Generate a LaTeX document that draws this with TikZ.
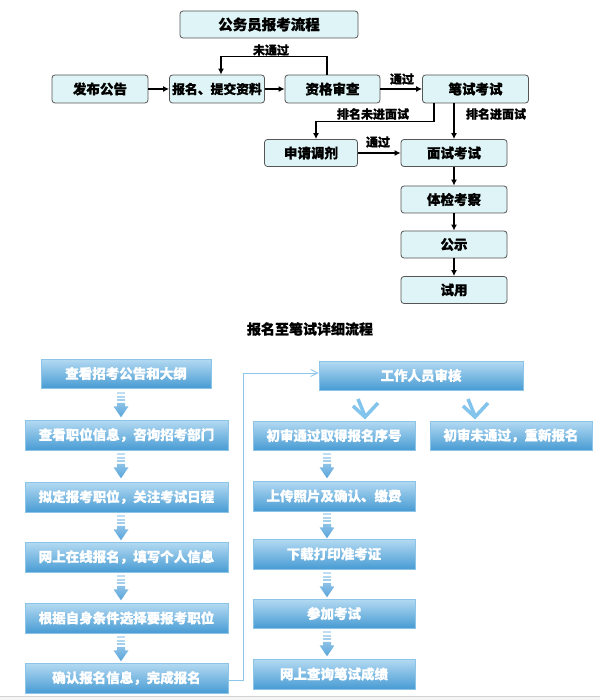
\documentclass[tikz,border=0pt]{standalone}
\usepackage{fontspec}
\setmainfont{Noto Sans CJK SC}[BoldFeatures={FakeBold=0.9}]
\usetikzlibrary{arrows.meta,calc}
\definecolor{topfill}{RGB}{222,244,246}
\definecolor{topdraw}{RGB}{85,85,85}
\definecolor{btop}{RGB}{180,218,242}
\definecolor{bbot}{RGB}{72,156,212}
\definecolor{bdraw}{RGB}{140,196,232}
\definecolor{sbar}{RGB}{176,214,240}
\definecolor{shead}{RGB}{88,164,218}
\definecolor{conn}{RGB}{140,198,234}
\definecolor{chevc}{RGB}{130,196,236}
\tikzset{
  tbox/.style={draw=topdraw, line width=0.8pt, fill=topfill, rounded corners=3pt, inner sep=0pt,
    minimum height=28pt, font=\bfseries\fontsize{13.5}{13.5}\selectfont},
  blk/.style={line width=1.5pt, -{Latex[length=6pt,width=6pt]}},
  lbl/.style={font=\bfseries\fontsize{12}{12}\selectfont, inner sep=0pt},
  bbox/.style={draw=bdraw, line width=0.6pt, top color=btop, bottom color=bbot, text=white,
    inner sep=0pt, minimum height=30pt, font=\bfseries\fontsize{13.5}{14}\selectfont},
  conline/.style={draw=conn, line width=0.9pt},
  stripe/.pic={
    \fill[sbar!80!white] (-4,0) rectangle (4,2);
    \fill[sbar] (-4,3.5) rectangle (4,5.5);
    \fill[sbar!85!shead] (-4,7) rectangle (4,9);
    \shade[top color=sbar!60!shead, bottom color=shead]
      (-4,10.5) -- (4,10.5) -- (4,14) -- (7.5,14) -- (0,25) -- (-7.5,14) -- (-4,14) -- cycle;
  },
  chev/.pic={
    \draw[chevc, line width=3.5pt, line cap=butt] (-7,-17) -- (0,0);
    \draw[chevc, line width=3.5pt, line join=miter] (-12,-10) -- (0,1) -- (13,-13);
  }
}
\begin{document}
\begin{tikzpicture}[x=1pt,y=-1pt]
\useasboundingbox (0,0) rectangle (600,700);
\fill[white] (0,0) rectangle (600,700);
\fill[gray!8] (0,696) rectangle (600,700);
\draw[gray!35, line width=0.8pt] (0,696) -- (600,696);

% ---------- top flow ----------
\node[tbox, minimum width=178pt, minimum height=27pt, font=\bfseries\fontsize{14.5}{14.5}\selectfont] (title) at (269,24.5) {公务员报考流程};
\node[tbox, minimum width=96pt] (fb) at (100,89) {发布公告};
\node[tbox, minimum width=95pt, font=\bfseries\fontsize{12.8}{13}\selectfont] (bm) at (217,89) {报名、提交资料};
\node[tbox, minimum width=95pt] (zg) at (332.5,89) {资格审查};
\node[tbox, minimum width=106pt] (bs) at (475.5,89) {笔试考试};
\node[tbox, minimum width=93pt, minimum height=27pt] (sq) at (311,153) {申请调剂};
\node[tbox, minimum width=106pt, minimum height=27pt] (ms) at (454,153) {面试考试};
\node[tbox, minimum width=106pt, minimum height=27pt] (tj) at (454,199.5) {体检考察};
\node[tbox, minimum width=106pt, minimum height=27pt] (gs) at (454,244.5) {公示};
\node[tbox, minimum width=106pt, minimum height=27pt] (sy) at (454,290) {试用};

\draw[blk] (fb) -- (bm);
\draw[blk] (bm) -- (zg);
\draw[blk] (zg) -- (bs);
\draw[blk] ([xshift=-5.5pt]zg.north) -- ++(0,-18) -| ([xshift=4pt]bm.north);
\draw[blk] ([xshift=-41.5pt]bs.south) -- ++(0,18) -| ([xshift=5pt]sq.north);
\draw[blk] ([xshift=-21.5pt]bs.south) -- (ms.north);
\draw[blk] (sq) -- (ms);
\draw[blk] (ms) -- (tj);
\draw[blk] (tj) -- (gs);
\draw[blk] (gs) -- (sy);

\node[lbl] (t1) at (271,50) {未通过};
\node[lbl] (t2) at (402,79) {通过};
\node[lbl] (t3) at (373,114) {排名未进面试};
\node[lbl] (t4) at (496,114) {排名进面试};
\node[lbl] (t5) at (378,142) {通过};

% ---------- bottom flow ----------
\node[font=\bfseries\fontsize{14}{14}\selectfont, inner sep=0pt] (head) at (310,329) {报名至笔试详细流程};

\node[bbox, minimum width=170pt, minimum height=29pt] (L1) at (126,373.5) {查看招考公告和大纲};
\node[bbox, minimum width=203pt] (L2) at (126.5,435) {查看职位信息，咨询招考部门};
\node[bbox, minimum width=203pt] (L3) at (126.5,497) {拟定报考职位，关注考试日程};
\node[bbox, minimum width=203pt] (L4) at (126.5,557) {网上在线报名，填写个人信息};
\node[bbox, minimum width=203pt] (L5) at (126.5,618) {根据自身条件选择要报考职位};
\node[bbox, minimum width=203pt] (L6) at (126.5,678) {确认报名信息，完成报名};

\node[bbox, minimum width=204pt, minimum height=29pt] (R0) at (421,375.5) {工作人员审核};
\node[bbox, minimum width=162pt, minimum height=29pt] (R1) at (334,435.5) {初审通过取得报名序号};
\node[bbox, minimum width=162pt, minimum height=29pt] (R1b) at (511,435.5) {初审未通过，重新报名};
\node[bbox, minimum width=162pt] (R2) at (334,496) {上传照片及确认、缴费};
\node[bbox, minimum width=162pt] (R3) at (334,554) {下载打印准考证};
\node[bbox, minimum width=162pt, minimum height=29pt] (R4) at (334,613.5) {参加考试};
\node[bbox, minimum width=162pt] (R5) at (334,674) {网上查询笔试成绩};

\pic at ($(L1.south)+(-5,4)$) {stripe};
\pic at ($(L2.south)+(-5.5,3)$) {stripe};
\pic at ($(L3.south)+(-5.5,3)$) {stripe};
\pic at ($(L4.south)+(-5.5,3)$) {stripe};
\pic at ($(L5.south)+(-5.5,3)$) {stripe};

\pic at ($(R1.south)+(-7,3)$) {stripe};
\pic at ($(R2.south)+(-7,2)$) {stripe};
\pic at ($(R3.south)+(-7,3)$) {stripe};
\pic at ($(R4.south)+(-7,3)$) {stripe};

\pic at (365,416) {chev};
\pic at (475,416) {chev};

\coordinate (c1) at (243,680);
\coordinate (c2) at (243,373);
\draw[conline, -{Straight Barb[length=7pt,width=7pt]}] ([yshift=-2pt]L6.east) -- (c1) -- (c2) -- (c2 -| R0.west);
\end{tikzpicture}
\end{document}
